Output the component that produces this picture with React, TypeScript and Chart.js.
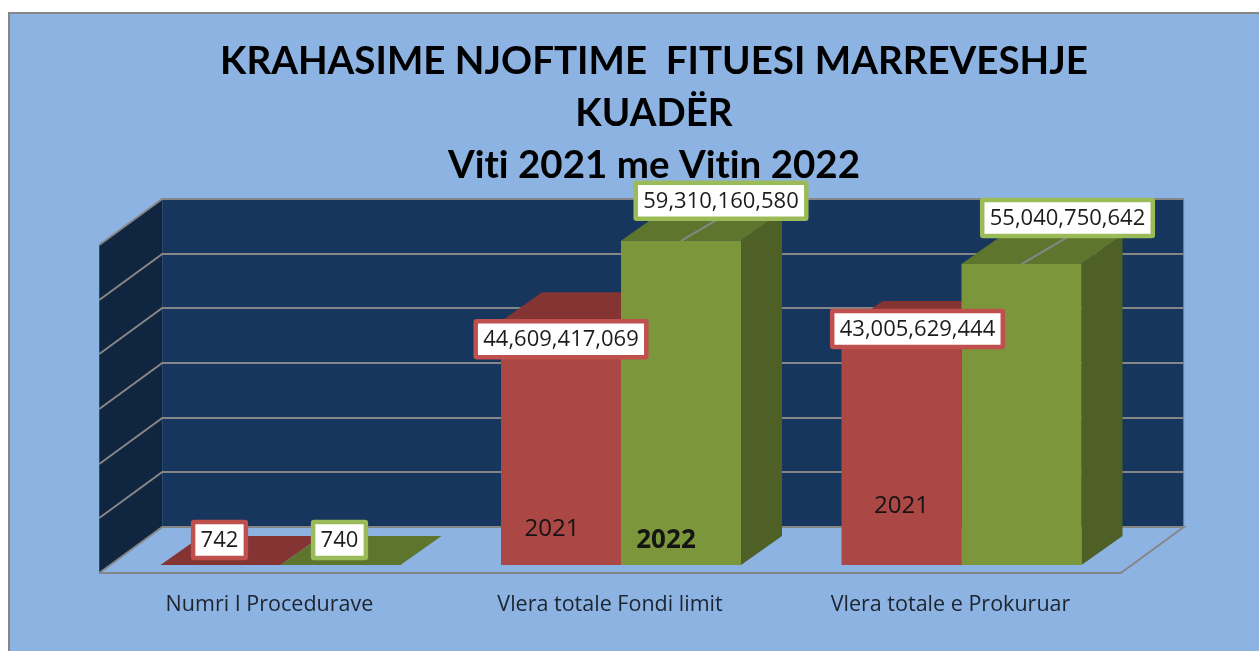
import React, { useEffect, useRef } from "react";
import { Chart, registerables } from "chart.js";

Chart.register(...registerables);

const categories = ["Numri I Procedurave", "Vlera totale Fondi limit", "Vlera totale e Prokuruar"];
const seriesNames = ["2021", "2022"];
const values2021 = [742, 44609417069, 43005629444];
const values2022 = [740, 59310160580, 55040750642];
const titleLines = ["KRAHASIME NJOFTIME  FITUESI MARREVESHJE", "KUADËR", "Viti 2021 me Vitin 2022"];
const axisMax = 60000000000;
const axisStep = 10000000000;

const FONT = '"Open Sans", sans-serif';
const TITLE_FONT = 'Lato, sans-serif';
const BG = "#8DB3E2";
const GRID = "#868686";
const WALL_BACK = "#17365D";
const WALL_SIDE = "#10253F";
const STYLES = [
  { front: "#AB4744", top: "#843432", side: "#6E2B29", box: "#C0504D" },
  { front: "#7B963B", top: "#5E752D", side: "#4E6026", box: "#9BBB59" },
];
// 3D projection offsets, px
const BAR_DEPTH = { x: 41, y: 29 };
const WALL = { backUp: 38, frontDown: 8, leftFront: -11, leftBack: 52, rightFront: -11, rightBack: 52 };
// label placement relative to the top-centre of each bar: [dataset][category] => [dx, dy]
const LABEL_OFFSETS = [
  [[-1, -25], [0, 18], [16, -1]],
  [[-1, -25], [40, -40], [46, -46]],
];
const LEADER = [null, [null, [46, -27], [46, -27]]] as any;
// free-floating series tags inside the bars: dataset, category, dx from bar centre, dy above the base, font size, bold
const TAGS = [
  { ds: 0, cat: 1, dx: -9, up: 36, size: 24, bold: false },
  { ds: 1, cat: 1, dx: -15, up: 24, size: 26, bold: true },
  { ds: 0, cat: 2, dx: 0, up: 59, size: 24, bold: false },
];

function poly(ctx: CanvasRenderingContext2D, pts: number[][], fill?: string, stroke?: string, lw = 2) {
  ctx.beginPath();
  pts.forEach((p, i) => (i ? ctx.lineTo(p[0], p[1]) : ctx.moveTo(p[0], p[1])));
  ctx.closePath();
  if (fill) { ctx.fillStyle = fill; ctx.fill(); }
  if (stroke) { ctx.strokeStyle = stroke; ctx.lineWidth = lw; ctx.stroke(); }
}

const scenePlugin = {
  id: "scene",
  afterLayout(chart: any) {
    // title is centred a little to the right of the plot
    const t = chart.titleBlock;
    if (t) { t.left = 0; t.right = 1308; }
  },
  beforeDraw(chart: any) {
    const ctx = chart.ctx as any;
    // a tiny spacing switches off the "ti" ligature of the title face
    ctx.letterSpacing = "0.01px";
    ctx.save();
    ctx.fillStyle = "#ffffff";
    ctx.fillRect(0, 0, chart.width, chart.height);
    ctx.fillStyle = BG;
    ctx.strokeStyle = GRID;
    ctx.lineWidth = 2;
    ctx.beginPath();
    ctx.rect(9, 13, chart.width + 20, chart.height + 20);
    ctx.fill();
    ctx.stroke();
    ctx.restore();
  },
  beforeDatasetsDraw(chart: any) {
    const ctx = chart.ctx as CanvasRenderingContext2D;
    const { left, right, bottom } = chart.chartArea;
    const y = chart.scales.y;
    const xBackL = left + WALL.leftBack;
    const xBackR = right + WALL.rightBack;
    const xFrontL = left + WALL.leftFront;
    const xFrontR = right + WALL.rightFront;
    const yBack = bottom - WALL.backUp;
    const yFront = bottom + WALL.frontDown;
    const topBack = y.getPixelForValue(axisMax) - WALL.backUp;
    const topFront = y.getPixelForValue(axisMax) + WALL.frontDown;
    ctx.save();
    poly(ctx, [[xBackL, topBack], [xBackR, topBack], [xBackR, yBack], [xBackL, yBack]], WALL_BACK);
    poly(ctx, [[xFrontL, topFront], [xBackL, topBack], [xBackL, yBack], [xFrontL, yFront]], WALL_SIDE);
    poly(ctx, [[xFrontL, yFront], [xBackL, yBack], [xBackR, yBack], [xFrontR, yFront]], BG);
    ctx.strokeStyle = GRID;
    ctx.lineWidth = 2;
    for (const t of y.ticks) {
      const p = Math.round(y.getPixelForValue(t.value));
      ctx.beginPath();
      ctx.moveTo(xFrontL, p + WALL.frontDown);
      ctx.lineTo(xBackL, p - WALL.backUp);
      ctx.lineTo(xBackR, p - WALL.backUp);
      if (t.value === 0) ctx.lineTo(xFrontR, yFront), ctx.lineTo(xFrontL, yFront);
      ctx.stroke();
    }
    ctx.beginPath();
    ctx.moveTo(xBackR, topBack);
    ctx.lineTo(xBackR, yBack);
    ctx.strokeStyle = "#6F8FB8";
    ctx.lineWidth = 1;
    ctx.stroke();

    // tops and sides of the prisms, behind the front faces
    chart.data.datasets.forEach((_: any, di: number) => {
      const st = STYLES[di];
      chart.getDatasetMeta(di).data.forEach((bar: any) => {
        const p = bar.getProps(["x", "y", "base", "width"], true);
        const x0 = p.x - p.width / 2;
        const x1 = p.x + p.width / 2;
        const dx = BAR_DEPTH.x;
        const dy = BAR_DEPTH.y;
        poly(ctx, [[x1, p.y], [x1 + dx, p.y - dy], [x1 + dx, p.base - dy], [x1, p.base]], st.side);
        poly(ctx, [[x0, p.y], [x1, p.y], [x1 + dx, p.y - dy], [x0 + dx, p.y - dy]], st.top);
      });
    });
    ctx.restore();
  },
  afterDatasetsDraw(chart: any) {
    const ctx = chart.ctx as CanvasRenderingContext2D;
    ctx.save();
    ctx.textAlign = "center";
    ctx.textBaseline = "middle";
    // floating series tags
    for (const tag of TAGS) {
      const bar = chart.getDatasetMeta(tag.ds).data[tag.cat];
      const p = bar.getProps(["x", "base"], true);
      ctx.fillStyle = "#141414";
      ctx.font = `${tag.bold ? "bold " : ""}${tag.size}px ${FONT}`;
      ctx.fillText(seriesNames[tag.ds], p.x + tag.dx, p.base - tag.up);
    }
    // leader lines
    chart.data.datasets.forEach((_: any, di: number) => {
      chart.getDatasetMeta(di).data.forEach((bar: any, i: number) => {
        const l = LEADER[di] && LEADER[di][i];
        if (!l) return;
        const p = bar.getProps(["x", "y"], true);
        ctx.beginPath();
        ctx.moveTo(p.x, p.y);
        ctx.lineTo(p.x + l[0], p.y + l[1]);
        ctx.strokeStyle = GRID;
        ctx.lineWidth = 2;
        ctx.stroke();
      });
    });
    // value boxes
    ctx.font = `22px ${FONT}`;
    chart.data.datasets.forEach((ds: any, di: number) => {
      chart.getDatasetMeta(di).data.forEach((bar: any, i: number) => {
        const p = bar.getProps(["x", "y"], true);
        const text = Number(ds.data[i]).toLocaleString("en-US");
        const w = ctx.measureText(text).width + 15;
        const h = 36;
        const cx = p.x + LABEL_OFFSETS[di][i][0];
        const cy = p.y + LABEL_OFFSETS[di][i][1];
        ctx.beginPath();
        ctx.roundRect(cx - w / 2, cy - h / 2, w, h, 1);
        ctx.fillStyle = "#ffffff";
        ctx.fill();
        ctx.strokeStyle = STYLES[di].box;
        ctx.lineWidth = 4.5;
        ctx.stroke();
        ctx.fillStyle = "#1c1c1c";
        ctx.fillText(text, cx, cy + 1);
      });
    });
    ctx.restore();
  },
};

export default function App() {
  const ref = useRef<HTMLCanvasElement>(null);
  useEffect(() => {
    document.body.style.margin = "0";
    const chart = new Chart(ref.current as HTMLCanvasElement, {
      type: "bar",
      data: {
        labels: categories,
        datasets: [
          { label: seriesNames[0], data: values2021, backgroundColor: STYLES[0].front, categoryPercentage: 240 / 340.5, barPercentage: 1 },
          { label: seriesNames[1], data: values2022, backgroundColor: STYLES[1].front, categoryPercentage: 240 / 340.5, barPercentage: 1 },
        ],
      },
      options: {
        responsive: false,
        animation: false,
        layout: { padding: { left: 110.25, right: 127.25, top: 0, bottom: 0 } },
        plugins: {
          legend: { display: false },
          tooltip: { enabled: false },
          title: {
            display: true,
            text: titleLines,
            color: "#000000",
            font: { family: TITLE_FONT, size: 38.5, weight: "bold", lineHeight: 52 / 38.5 },
            padding: { top: 36, bottom: 45 },
          },
        },
        scales: {
          x: {
            grid: { display: false, drawTicks: false },
            border: { display: false },
            afterFit: (s: any) => { s.height = 86; },
            ticks: {
              color: "#1c2430",
              font: { family: FONT, size: 21.5 },
              padding: 27,
              labelOffset: -11,
              maxRotation: 0,
              autoSkip: false,
            },
          },
          y: {
            display: false,
            min: 0,
            max: axisMax,
            ticks: { stepSize: axisStep },
          },
        },
      },
      plugins: [scenePlugin],
    } as any);
    return () => chart.destroy();
  }, []);
  return <canvas ref={ref} width={1259} height={651} style={{ display: "block" }} />;
}
